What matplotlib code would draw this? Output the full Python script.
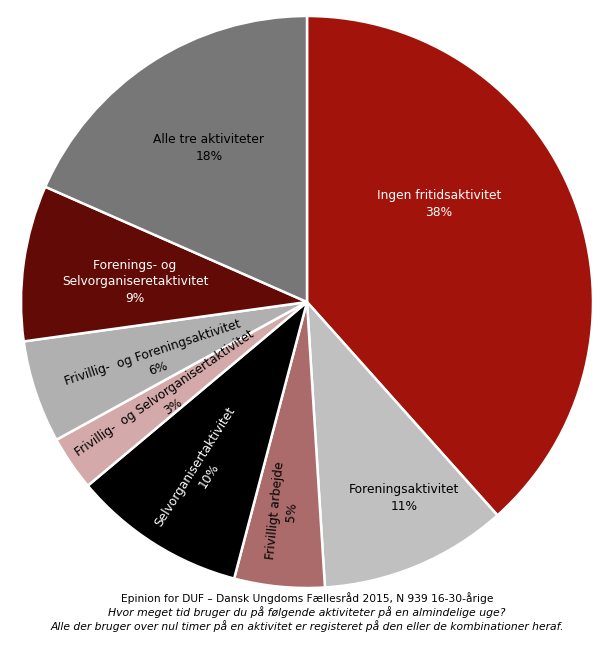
import numpy as np
import matplotlib
matplotlib.use("Agg")
import matplotlib.pyplot as plt

# ---- data ----
categories = [
    "Ingen fritidsaktivitet",
    "Foreningsaktivitet",
    "Frivilligt arbejde",
    "Selvorganisertaktivitet",
    "Frivillig-  og Selvorganisertaktivitet",
    "Frivillig-  og Foreningsaktivitet",
    "Forenings- og\nSelvorganiseretaktivitet",
    "Alle tre aktiviteter",
]
values = [38.4, 10.6, 5.1, 9.8, 3.1, 5.8, 8.8, 18.4]
percent_labels = ["38%", "11%", "5%", "10%", "3%", "6%", "9%", "18%"]

colors = ["#A1130B", "#C0C0C0", "#AB6B6B", "#000000",
          "#D4A9A9", "#B0B0B0", "#620B06", "#777777"]
text_colors = ["white", "black", "black", "white", "black", "black", "white", "black"]

# label layout: (x, y) in axes data units, and whether the label is rotated radially
label_xy = [(0.462, 0.343), (0.339, -0.685), (-0.082, -0.731), (-0.367, -0.591),
            (-0.483, -0.343), (-0.531, -0.206), (-0.601, 0.070), (-0.343, 0.538)]
rotated = [False, False, True, True, True, True, False, False]

caption = [
    ("Epinion for DUF \u2013 Dansk Ungdoms Fællesråd 2015, N 939 16-30-årige", "normal", 7.65),
    ("Hvor meget tid bruger du på følgende aktiviteter på en almindelige uge?", "italic", 7.8),
    ("Alle der bruger over nul timer på en aktivitet er registeret på den eller de kombinationer heraf.", "italic", 7.75),
]

plt.rcParams['font.family'] = ['DejaVu Sans']

W, H = 614, 649
fig = plt.figure(figsize=(W / 100, H / 100), dpi=100)
cx, cy, r = 307, 302, 286
ax = fig.add_axes([(cx - r) / W, (H - cy - r) / H, 2 * r / W, 2 * r / H])

wedges, _ = ax.pie(values, colors=colors, startangle=90, counterclock=False,
                   radius=1.0, wedgeprops=dict(edgecolor="white", linewidth=1.8))
ax.set_xlim(-1, 1)
ax.set_ylim(-1, 1)
ax.set_aspect("equal")
ax.axis("off")

for w, cat, pct, tc, (x, y), rot in zip(wedges, categories, percent_labels,
                                         text_colors, label_xy, rotated):
    angle = 0
    if rot:
        mid = (w.theta1 + w.theta2) / 2.0
        angle = (mid % 360) - 180
    ax.text(x, y, f"{cat}\n{pct}", ha="center", va="center", color=tc,
            fontsize=8.8, rotation=angle, rotation_mode="anchor",
            linespacing=1.35, multialignment="center")

ys = [598, 612, 626]
for (txt, style, fs), yy in zip(caption, ys):
    fig.text(0.5, 1 - yy / H, txt, ha="center", va="center", fontsize=fs,
             style=style, color="black")

fig.savefig("out.png", dpi=100)
